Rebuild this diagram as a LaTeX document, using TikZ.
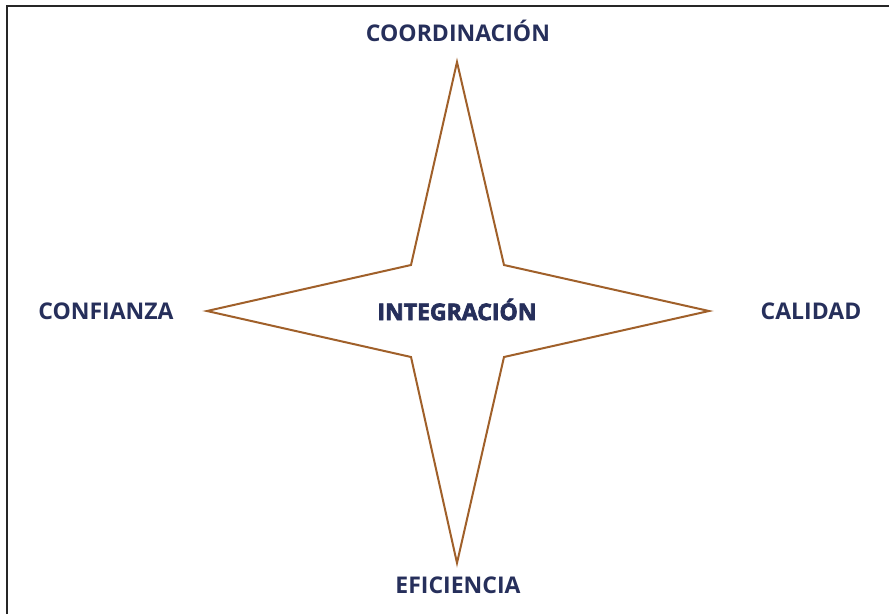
\documentclass[tikz,border=0pt]{standalone}
\usepackage{fontspec}
\setmainfont{Open Sans}
\newfontfamily\heavyfont{Open Sans Bold}[FakeBold=3]
\definecolor{navy}{HTML}{262F5B}
\definecolor{star}{HTML}{A0602A}
\begin{document}
\begin{tikzpicture}[x=1pt,y=-1pt,
  lbl/.style={text=navy,font=\bfseries\fontsize{23}{26}\selectfont,inner sep=0pt},
  ctr/.style={text=navy,font=\heavyfont\fontsize{23}{26}\selectfont,inner sep=0pt}]
\useasboundingbox (0,0) rectangle (889,614);
\fill[white] (0,0) rectangle (889,614);
\draw[line width=2pt,black!85] (7,614) -- (7,6) -- (889,6);
\coordinate (c) at (457,311);
\coordinate (t) at (457,62);
\coordinate (b) at (457,563);
\coordinate (l) at (207,311);
\coordinate (r) at (709,311);
\draw[star,line width=2pt,line join=miter] (t) -- (504,265) -- (r) -- (504,357) -- (b) -- (411,357) -- (l) -- (411,265) -- cycle;
\node[lbl] (coord) at (458,31) {COORDINACIÓN};
\node[lbl] (conf) at (106,311) {CONFIANZA};
\node[lbl] (cal) at (811,311) {CALIDAD};
\node[lbl] (efi) at (458,585) {EFICIENCIA};
\node[ctr] (integ) at (457,309.5) {INTEGRACIÓN};
\end{tikzpicture}
\end{document}
